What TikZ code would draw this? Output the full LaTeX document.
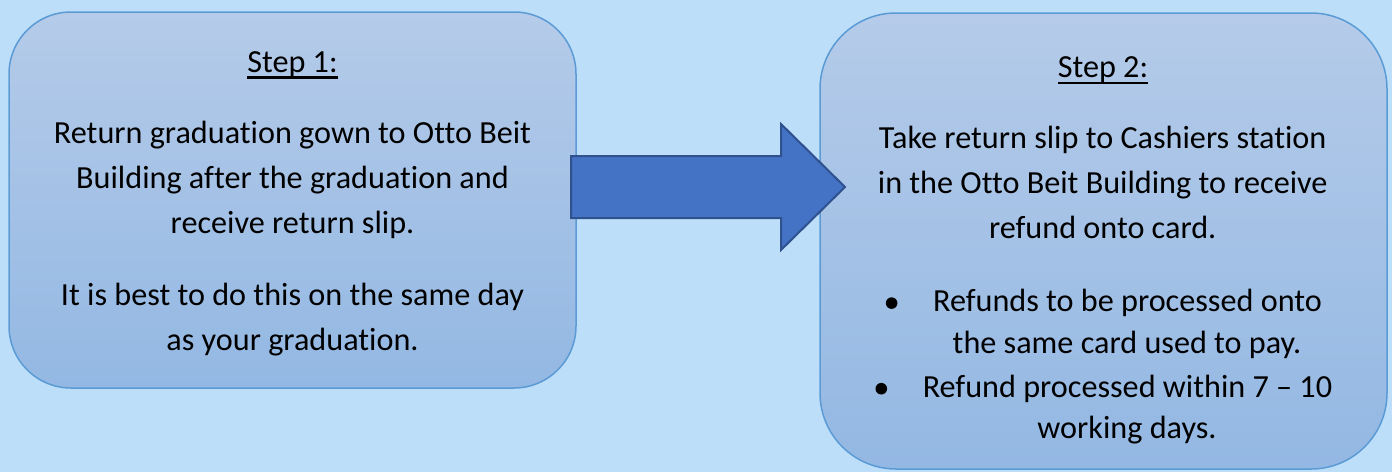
\documentclass[tikz,border=0pt]{standalone}
\usepackage{fontspec}
\setmainfont{Carlito}[Ligatures={NoCommon}]
\definecolor{bg}{RGB}{189,222,248}
\definecolor{boxtop}{RGB}{181,203,233}
\definecolor{boxbot}{RGB}{147,184,227}
\definecolor{boxline}{RGB}{91,155,213}
\definecolor{arrfill}{RGB}{68,114,196}
\definecolor{arrline}{RGB}{47,82,143}
\tikzset{
  stepbox/.style={draw=boxline, line width=1.5pt, top color=boxtop, bottom color=boxbot,
    minimum width=567pt, inner sep=0pt, outer sep=0pt},
  txt/.style={anchor=base, inner sep=0pt, outer sep=0pt, text=black,
    font=\fontsize{32.2}{38}\selectfont},
  uline/.style={line width=2.2pt, black},
  bul/.style={fill=black},
  blockarrow/.style={draw=arrline, line width=2pt, fill=arrfill, line join=miter}
}
\begin{document}
\begin{tikzpicture}[x=1pt,y=-1pt]
\fill[bg] (0,0) rectangle (1392,472);
\useasboundingbox (0,0) rectangle (1392,472);

% boxes
\node[stepbox, minimum height=376pt, rounded corners=62pt] (box1) at (292.5,200) {};
\node[stepbox, minimum height=456pt, rounded corners=76pt] (box2) at (1103.5,241) {};

% arrow
\draw[blockarrow] (571,156) -- (781,156) -- (781,124) -- (845,187) -- (781,250)
  -- (781,218) -- (571,218) -- cycle;

% Step 1 text
\node[txt] (s1) at (292.5,72) {Step 1:};
\draw[uline] ([yshift=-5.5pt]s1.base west) -- ([yshift=-5.5pt]s1.base east);
\node[txt] (a1) at (292.5,143.3) {Return graduation gown to Otto Beit};
\node[txt] (a2) at (292.5,188.3) {Building after the graduation and};
\node[txt] (a3) at (292.5,233.3) {receive return slip.};
\node[txt] (a4) at (292.5,305) {It is best to do this on the same day};
\node[txt] (a5) at (292.5,350) {as your graduation.};

% Step 2 text
\node[txt] (s2) at (1103,77.3) {Step 2:};
\draw[uline] ([yshift=-5.5pt]s2.base west) -- ([yshift=-5.5pt]s2.base east);
\node[txt] (b1) at (1102.7,148.3) {Take return slip to Cashiers station};
\node[txt] (b2) at (1102.7,193.3) {in the Otto Beit Building to receive};
\node[txt] (b3) at (1102.7,238.3) {refund onto card.};
\node[txt] (c1) at (1127.5,311.7) {Refunds to be processed onto};
\node[txt] (c2) at (1127,353.3) {the same card used to pay.};
\node[txt] (c3) at (1127.5,397.3) {Refund processed within 7 – 10};
\node[txt] (c4) at (1127,438.3) {working days.};
\fill[bul] ([xshift=-41.5pt,yshift=8.6pt]c1.base west) circle (5.8pt);
\fill[bul] ([xshift=-41.5pt,yshift=8.6pt]c3.base west) circle (5.8pt);
\end{tikzpicture}
\end{document}
